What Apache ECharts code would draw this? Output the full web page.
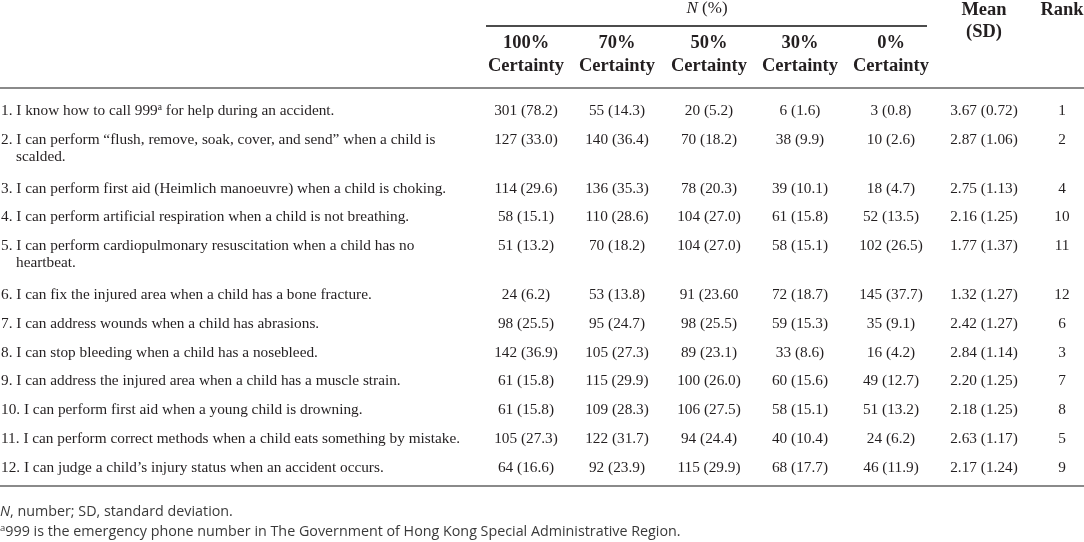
<!DOCTYPE html>
<html>
<head>
<meta charset="utf-8">
<script src="https://cdn.jsdelivr.net/npm/echarts@6/dist/echarts.min.js"></script>
<style>
  html, body { margin: 0; padding: 0; background: #fff; }
  #chart { width: 1084px; height: 542px; }
</style>
</head>
<body>
<div id="chart"></div>
<script>
'use strict';
// 表格：儿童意外急救自我效能 (N (%), Mean (SD), Rank)

// ---------- 数据 ----------
const items = [
  '1. I know how to call 999{sup|a} for help during an accident.',
  '2. I can perform \u201cflush, remove, soak, cover, and send\u201d when a child is\nscalded.',
  '3. I can perform first aid (Heimlich manoeuvre) when a child is choking.',
  '4. I can perform artificial respiration when a child is not breathing.',
  '5. I can perform cardiopulmonary resuscitation when a child has no\nheartbeat.',
  '6. I can fix the injured area when a child has a bone fracture.',
  '7. I can address wounds when a child has abrasions.',
  '8. I can stop bleeding when a child has a nosebleed.',
  '9. I can address the injured area when a child has a muscle strain.',
  '10. I can perform first aid when a young child is drowning.',
  '11. I can perform correct methods when a child eats something by mistake.',
  '12. I can judge a child\u2019s injury status when an accident occurs.'
];
const certaintyLevels = ['100%', '70%', '50%', '30%', '0%'];
const cert100 = ['301 (78.2)', '127 (33.0)', '114 (29.6)', '58 (15.1)', '51 (13.2)', '24 (6.2)', '98 (25.5)', '142 (36.9)', '61 (15.8)', '61 (15.8)', '105 (27.3)', '64 (16.6)'];
const cert70 = ['55 (14.3)', '140 (36.4)', '136 (35.3)', '110 (28.6)', '70 (18.2)', '53 (13.8)', '95 (24.7)', '105 (27.3)', '115 (29.9)', '109 (28.3)', '122 (31.7)', '92 (23.9)'];
const cert50 = ['20 (5.2)', '70 (18.2)', '78 (20.3)', '104 (27.0)', '104 (27.0)', '91 (23.60', '98 (25.5)', '89 (23.1)', '100 (26.0)', '106 (27.5)', '94 (24.4)', '115 (29.9)'];
const cert30 = ['6 (1.6)', '38 (9.9)', '39 (10.1)', '61 (15.8)', '58 (15.1)', '72 (18.7)', '59 (15.3)', '33 (8.6)', '60 (15.6)', '58 (15.1)', '40 (10.4)', '68 (17.7)'];
const cert0 = ['3 (0.8)', '10 (2.6)', '18 (4.7)', '52 (13.5)', '102 (26.5)', '145 (37.7)', '35 (9.1)', '16 (4.2)', '49 (12.7)', '51 (13.2)', '24 (6.2)', '46 (11.9)'];
const means = [3.67, 2.87, 2.75, 2.16, 1.77, 1.32, 2.42, 2.84, 2.20, 2.18, 2.63, 2.17];
const sds = [0.72, 1.06, 1.13, 1.25, 1.37, 1.27, 1.27, 1.14, 1.25, 1.25, 1.17, 1.24];
const ranks = [1, 2, 4, 10, 11, 12, 6, 3, 7, 8, 5, 9];
const footnotes = [
  '{it|N}, number; SD, standard deviation.',
  '{sup|a}999 is the emergency phone number in The Government of Hong Kong Special Administrative Region.'
];

// ---------- 版式 ----------
const W = 1084, H = 542;
const INK = '#231f20';
const NOTE_INK = '#3a3a3a';
const SERIF = '"Liberation Serif", "Times New Roman", serif';
const SANS = '"Open Sans", "Noto Sans", sans-serif';
const BODY_SIZE = 15.3, HEAD_SIZE = 18.5, NOTE_SIZE = 14.3;
const COL_X = [526, 617, 709, 800, 891, 984, 1062];  // 数值列中心
const ROW_TOP = 111, ROW_PITCH = 28.8, EXTRA_LINE = 20, WRAP_LINE = 17;

// 每行首行的 y，按换行数累加
const rowY = [];
items.reduce((y, t) => { rowY.push(y); return y + ROW_PITCH + (t.split('\n').length - 1) * EXTRA_LINE; }, ROW_TOP);

const columns = [cert100, cert70, cert50, cert30, cert0, means.map((m, i) => `${m.toFixed(2)} (${sds[i].toFixed(2)})`), ranks.map(String)];

// 单元格：[x, y, 文本, 对齐]
const cells = [];
items.forEach((t, r) => {
  const lines = t.split('\n');
  cells.push([1, rowY[r], lines[0], 'left']);
  lines.slice(1).forEach((l, k) => cells.push([16, rowY[r] + WRAP_LINE * (k + 1), l, 'left']));
  columns.forEach((col, c) => cells.push([COL_X[c], rowY[r], col[r], 'center']));
});

const rich = {
  sup: { fontSize: 9.5, fontFamily: SERIF, fill: INK, verticalAlign: 'top', lineHeight: 17 },
  it: { fontStyle: 'italic' }
};

function headerText(x, y, text) {
  return {
    type: 'text', x, y, silent: true,
    style: { text, fill: INK, font: `bold ${HEAD_SIZE}px ${SERIF}`, align: 'center', verticalAlign: 'middle' }
  };
}

const graphics = [
  // N (%) 表头
  { type: 'text', x: 707, y: 9, silent: true, style: { text: '{it|N} (%)', fill: INK, fontSize: 17, fontFamily: SERIF, align: 'center', verticalAlign: 'middle', rich: { it: { fontStyle: 'italic', fontSize: 17, fontFamily: SERIF, fill: INK } } } },
  { type: 'line', silent: true, shape: { x1: 486, y1: 26, x2: 927, y2: 26 }, style: { stroke: '#111', lineWidth: 1.4 } },
  headerText(984, 10, 'Mean'),
  headerText(984, 32, '(SD)'),
  headerText(1062, 10, 'Rank'),
  // 规则线
  { type: 'line', silent: true, shape: { x1: 0, y1: 88, x2: W, y2: 88 }, style: { stroke: '#8a8a8a', lineWidth: 2 } },
  { type: 'line', silent: true, shape: { x1: 0, y1: 486, x2: W, y2: 486 }, style: { stroke: '#8a8a8a', lineWidth: 2 } },
  // 脚注
  { type: 'text', x: 0, y: 512, silent: true, style: { text: footnotes[0], fill: NOTE_INK, fontSize: NOTE_SIZE, fontFamily: SANS, verticalAlign: 'middle', rich: { it: { fontStyle: 'italic', fontSize: NOTE_SIZE, fontFamily: SANS, fill: NOTE_INK } } } },
  { type: 'text', x: 0, y: 532, silent: true, style: { text: footnotes[1], fill: NOTE_INK, fontSize: NOTE_SIZE, fontFamily: SANS, verticalAlign: 'middle', rich: { sup: { fontSize: 9.5, fontFamily: SANS, fill: NOTE_INK, verticalAlign: 'top', lineHeight: 17 } } } }
];
certaintyLevels.forEach((lv, i) => {
  graphics.push(headerText(COL_X[i], 43, lv));
  graphics.push(headerText(COL_X[i], 66, 'Certainty'));
});

const chart = echarts.init(document.getElementById('chart'), null, { renderer: 'canvas' });
chart.setOption({
  animation: false,
  backgroundColor: '#fff',
  grid: { left: 0, right: 0, top: 0, bottom: 0 },
  xAxis: { type: 'value', min: 0, max: W, show: false },
  yAxis: { type: 'value', min: 0, max: H, inverse: true, show: false },
  graphic: graphics,
  series: [{
    type: 'custom',
    silent: true,
    data: cells,
    renderItem: (params, api) => {
      const p = api.coord([api.value(0), api.value(1)]);
      const cell = cells[params.dataIndex];
      return {
        type: 'text', x: p[0], y: p[1],
        style: { text: cell[2], fill: INK, fontSize: BODY_SIZE, fontFamily: SERIF, align: cell[3], verticalAlign: 'middle', lineHeight: 17, rich }
      };
    }
  }]
});
</script>
</body>
</html>
